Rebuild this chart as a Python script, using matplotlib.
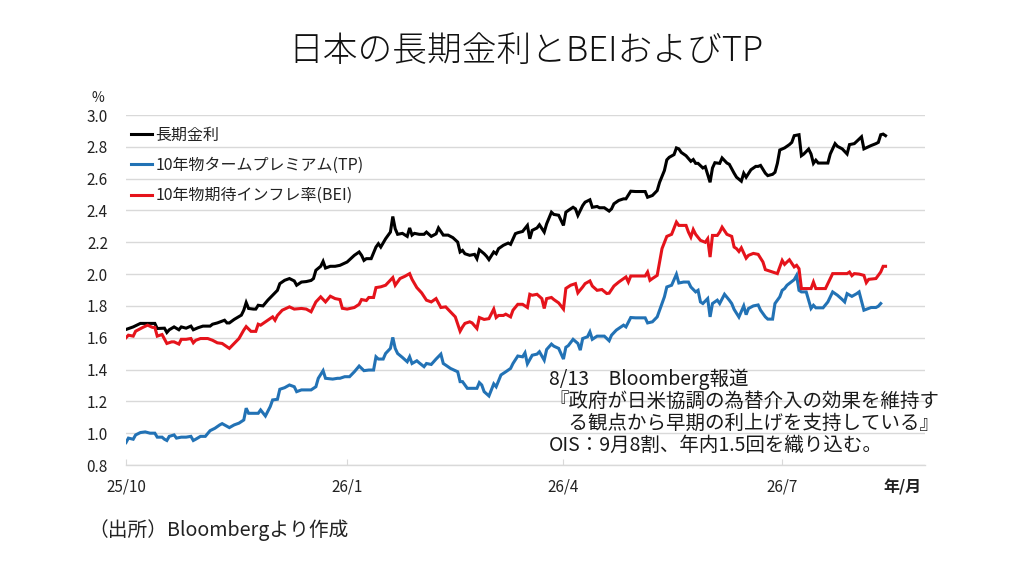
import matplotlib
matplotlib.use('Agg')
import matplotlib.pyplot as plt
import pandas as pd

plt.rcParams['font.family'] = ['Noto Sans CJK JP', 'DejaVu Sans']

title = '日本の長期金利とBEIおよびTP'
labels = ['長期金利', '10年物タームプレミアム(TP)', '10年物期待インフレ率(BEI)']
colors = ['#000000', '#2272B5', '#E5131B']

long_rate = [("2025-10-01",1.652),("2025-10-04",1.668),("2025-10-07",1.69),("2025-10-10",1.69),("2025-10-13",1.69),("2025-10-14",1.658),("2025-10-17",1.66),("2025-10-18",1.633),("2025-10-19",1.65),("2025-10-21",1.668),("2025-10-23",1.65),("2025-10-24",1.668),("2025-10-26",1.66),("2025-10-28",1.673),("2025-10-29",1.65),("2025-10-31",1.663),("2025-11-02",1.673),("2025-11-05",1.673),("2025-11-06",1.685),("2025-11-08",1.693),("2025-11-11",1.71),("2025-11-12",1.693),("2025-11-13",1.693),("2025-11-15",1.715),("2025-11-18",1.742),("2025-11-19",1.773),("2025-11-20",1.821),("2025-11-21",1.784),("2025-11-23",1.78),("2025-11-24",1.78),("2025-11-25",1.804),("2025-11-27",1.80),("2025-11-29",1.836),("2025-12-01",1.867),("2025-12-03",1.898),("2025-12-04",1.94),("2025-12-06",1.961),("2025-12-08",1.972),("2025-12-10",1.957),("2025-12-11",1.93),("2025-12-13",1.95),("2025-12-15",1.953),("2025-12-17",1.96),("2025-12-18",1.972),("2025-12-19",2.024),("2025-12-21",2.049),("2025-12-22",2.08),("2025-12-23",2.038),("2025-12-25",2.049),("2025-12-27",2.049),("2025-12-29",2.055),("2026-01-01",2.076),("2026-01-04",2.118),("2026-01-06",2.139),("2026-01-07",2.118),("2026-01-08",2.086),("2026-01-09",2.097),("2026-01-11",2.097),("2026-01-13",2.17),("2026-01-14",2.191),("2026-01-15",2.17),("2026-01-17",2.222),("2026-01-19",2.264),("2026-01-20",2.362),("2026-01-21",2.285),("2026-01-22",2.25),("2026-01-24",2.256),("2026-01-26",2.237),("2026-01-27",2.29),("2026-01-28",2.245),("2026-01-29",2.256),("2026-01-31",2.25),("2026-02-02",2.25),("2026-02-03",2.264),("2026-02-05",2.237),("2026-02-07",2.253),("2026-02-08",2.29),("2026-02-10",2.245),("2026-02-12",2.245),("2026-02-14",2.229),("2026-02-16",2.201),("2026-02-17",2.139),("2026-02-18",2.149),("2026-02-19",2.128),("2026-02-21",2.118),("2026-02-23",2.124),("2026-02-24",2.097),("2026-02-25",2.153),("2026-02-27",2.128),("2026-02-28",2.112),("2026-03-01",2.091),("2026-03-03",2.139),("2026-03-04",2.128),("2026-03-05",2.16),("2026-03-07",2.181),("2026-03-09",2.195),("2026-03-10",2.187),("2026-03-12",2.254),("2026-03-13",2.26),("2026-03-15",2.268),("2026-03-17",2.306),("2026-03-18",2.222),("2026-03-19",2.275),("2026-03-21",2.29),("2026-03-22",2.31),("2026-03-24",2.264),("2026-03-25",2.316),("2026-03-27",2.389),("2026-03-28",2.375),("2026-03-30",2.37),("2026-04-01",2.306),("2026-04-02",2.389),("2026-04-03",2.40),("2026-04-05",2.42),("2026-04-06",2.41),("2026-04-07",2.369),("2026-04-09",2.431),("2026-04-10",2.452),("2026-04-12",2.467),("2026-04-13",2.42),("2026-04-15",2.425),("2026-04-16",2.417),("2026-04-18",2.417),("2026-04-20",2.396),("2026-04-21",2.41),("2026-04-22",2.442),("2026-04-24",2.463),("2026-04-26",2.473),("2026-04-27",2.473),("2026-04-29",2.521),("2026-05-01",2.519),("2026-05-03",2.519),("2026-05-05",2.519),("2026-05-06",2.483),("2026-05-08",2.494),("2026-05-10",2.525),("2026-05-11",2.577),("2026-05-13",2.651),("2026-05-14",2.718),("2026-05-15",2.734),("2026-05-17",2.751),("2026-05-18",2.793),("2026-05-19",2.787),("2026-05-20",2.765),("2026-05-22",2.744),("2026-05-24",2.709),("2026-05-25",2.72),("2026-05-26",2.696),("2026-05-27",2.696),("2026-05-29",2.667),("2026-05-30",2.675),("2026-06-01",2.577),("2026-06-02",2.667),("2026-06-03",2.70),("2026-06-05",2.696),("2026-06-06",2.73),("2026-06-08",2.698),("2026-06-09",2.69),("2026-06-11",2.634),("2026-06-12",2.609),("2026-06-14",2.584),("2026-06-15",2.634),("2026-06-16",2.609),("2026-06-18",2.656),("2026-06-20",2.677),("2026-06-21",2.677),("2026-06-22",2.683),("2026-06-24",2.634),("2026-06-25",2.619),("2026-06-27",2.627),("2026-06-28",2.64),("2026-06-29",2.696),("2026-06-30",2.78),("2026-07-02",2.793),("2026-07-04",2.814),("2026-07-05",2.828),("2026-07-06",2.87),("2026-07-08",2.876),("2026-07-09",2.744),("2026-07-10",2.755),("2026-07-12",2.786),("2026-07-13",2.755),("2026-07-14",2.696),("2026-07-15",2.716),("2026-07-16",2.698),("2026-07-18",2.698),("2026-07-20",2.698),("2026-07-21",2.755),("2026-07-23",2.82),("2026-07-24",2.803),("2026-07-26",2.787),("2026-07-28",2.755),("2026-07-29",2.814),("2026-07-31",2.82),("2026-08-01",2.834),("2026-08-03",2.863),("2026-08-04",2.787),("2026-08-07",2.808),("2026-08-09",2.82),("2026-08-10",2.828),("2026-08-11",2.876),("2026-08-12",2.88),("2026-08-13",2.87)]

term_premium = [("2025-10-01",0.941),("2025-10-02",0.969),("2025-10-04",0.962),("2025-10-05",0.989),("2025-10-07",1.004),("2025-10-09",1.008),("2025-10-11",1.0),("2025-10-13",1.0),("2025-10-14",0.975),("2025-10-16",0.975),("2025-10-17",0.962),("2025-10-18",0.954),("2025-10-19",0.98),("2025-10-21",0.989),("2025-10-22",0.969),("2025-10-24",0.975),("2025-10-26",0.975),("2025-10-28",0.98),("2025-10-29",0.954),("2025-10-30",0.962),("2025-11-01",0.98),("2025-11-03",0.98),("2025-11-05",1.016),("2025-11-07",1.031),("2025-11-09",1.052),("2025-11-10",1.06),("2025-11-13",1.035),("2025-11-15",1.052),("2025-11-17",1.063),("2025-11-19",1.083),("2025-11-20",1.157),("2025-11-21",1.125),("2025-11-23",1.125),("2025-11-25",1.125),("2025-11-26",1.146),("2025-11-28",1.108),("2025-11-30",1.167),("2025-12-01",1.209),("2025-12-03",1.213),("2025-12-04",1.276),("2025-12-06",1.286),("2025-12-08",1.303),("2025-12-10",1.292),("2025-12-11",1.261),("2025-12-13",1.272),("2025-12-15",1.272),("2025-12-17",1.272),("2025-12-19",1.292),("2025-12-20",1.345),("2025-12-22",1.393),("2025-12-23",1.345),("2025-12-26",1.34),("2025-12-28",1.345),("2025-12-29",1.345),("2025-12-31",1.355),("2026-01-02",1.355),("2026-01-04",1.386),("2026-01-06",1.422),("2026-01-08",1.393),("2026-01-10",1.397),("2026-01-12",1.397),("2026-01-13",1.48),("2026-01-14",1.466),("2026-01-16",1.466),("2026-01-17",1.501),("2026-01-19",1.533),("2026-01-20",1.602),("2026-01-21",1.533),("2026-01-22",1.501),("2026-01-24",1.476),("2026-01-26",1.449),("2026-01-27",1.48),("2026-01-28",1.438),("2026-01-30",1.455),("2026-01-31",1.442),("2026-02-02",1.418),("2026-02-03",1.438),("2026-02-05",1.432),("2026-02-07",1.466),("2026-02-09",1.497),("2026-02-10",1.438),("2026-02-11",1.428),("2026-02-13",1.407),("2026-02-16",1.386),("2026-02-17",1.324),("2026-02-18",1.324),("2026-02-20",1.282),("2026-02-22",1.282),("2026-02-24",1.282),("2026-02-25",1.318),("2026-02-26",1.303),("2026-02-27",1.261),("2026-03-01",1.234),("2026-03-03",1.31),("2026-03-04",1.292),("2026-03-06",1.366),("2026-03-08",1.386),("2026-03-10",1.407),("2026-03-11",1.438),("2026-03-13",1.485),("2026-03-15",1.48),("2026-03-16",1.505),("2026-03-17",1.436),("2026-03-19",1.49),("2026-03-21",1.497),("2026-03-22",1.512),("2026-03-24",1.459),("2026-03-25",1.526),("2026-03-27",1.56),("2026-03-28",1.547),("2026-03-30",1.533),("2026-04-01",1.466),("2026-04-02",1.54),("2026-04-03",1.55),("2026-04-05",1.59),("2026-04-07",1.564),("2026-04-08",1.522),("2026-04-09",1.595),("2026-04-11",1.606),("2026-04-12",1.637),("2026-04-13",1.59),("2026-04-15",1.61),("2026-04-18",1.61),("2026-04-20",1.581),("2026-04-21",1.616),("2026-04-23",1.648),("2026-04-26",1.679),("2026-04-27",1.668),("2026-04-29",1.727),("2026-05-01",1.725),("2026-05-03",1.725),("2026-05-05",1.725),("2026-05-06",1.693),("2026-05-08",1.70),("2026-05-10",1.731),("2026-05-11",1.773),("2026-05-13",1.857),("2026-05-14",1.919),("2026-05-16",1.93),("2026-05-18",1.999),("2026-05-19",1.944),("2026-05-21",1.95),("2026-05-23",1.95),("2026-05-24",1.919),("2026-05-26",1.888),("2026-05-27",1.898),("2026-05-28",1.825),("2026-05-29",1.815),("2026-05-31",1.846),("2026-06-01",1.731),("2026-06-02",1.815),("2026-06-04",1.836),("2026-06-05",1.815),("2026-06-07",1.873),("2026-06-09",1.836),("2026-06-10",1.815),("2026-06-11",1.778),("2026-06-13",1.73),("2026-06-15",1.80),("2026-06-16",1.745),("2026-06-17",1.784),("2026-06-19",1.80),("2026-06-21",1.806),("2026-06-22",1.773),("2026-06-24",1.731),("2026-06-25",1.717),("2026-06-27",1.717),("2026-06-28",1.815),("2026-06-30",1.857),("2026-07-01",1.898),("2026-07-02",1.909),("2026-07-03",1.93),("2026-07-06",1.965),("2026-07-07",1.992),("2026-07-08",1.898),("2026-07-09",1.888),("2026-07-11",1.888),("2026-07-13",1.784),("2026-07-14",1.804),("2026-07-15",1.788),("2026-07-18",1.788),("2026-07-20",1.825),("2026-07-22",1.888),("2026-07-24",1.867),("2026-07-26",1.84),("2026-07-27",1.825),("2026-07-28",1.877),("2026-07-30",1.86),("2026-08-01",1.877),("2026-08-02",1.888),("2026-08-04",1.773),("2026-08-07",1.79),("2026-08-09",1.79),("2026-08-10",1.798),("2026-08-11",1.815)]

bei = [("2025-10-01",1.60),("2025-10-02",1.616),("2025-10-04",1.61),("2025-10-05",1.641),("2025-10-08",1.665),("2025-10-10",1.679),("2025-10-12",1.665),("2025-10-13",1.665),("2025-10-14",1.61),("2025-10-16",1.62),("2025-10-18",1.564),("2025-10-20",1.574),("2025-10-21",1.574),("2025-10-23",1.56),("2025-10-24",1.59),("2025-10-26",1.59),("2025-10-28",1.595),("2025-10-29",1.568),("2025-10-30",1.584),("2025-11-01",1.595),("2025-11-04",1.595),("2025-11-06",1.584),("2025-11-08",1.568),("2025-11-10",1.564),("2025-11-12",1.543),("2025-11-13",1.533),("2025-11-15",1.564),("2025-11-17",1.595),("2025-11-19",1.648),("2025-11-20",1.67),("2025-11-22",1.64),("2025-11-24",1.64),("2025-11-25",1.685),("2025-11-26",1.679),("2025-11-29",1.71),("2025-12-01",1.731),("2025-12-02",1.71),("2025-12-03",1.74),("2025-12-05",1.773),("2025-12-08",1.794),("2025-12-10",1.78),("2025-12-13",1.784),("2025-12-15",1.78),("2025-12-17",1.763),("2025-12-19",1.825),("2025-12-21",1.857),("2025-12-23",1.825),("2025-12-25",1.861),("2025-12-27",1.846),("2025-12-29",1.84),("2025-12-30",1.785),("2026-01-01",1.78),("2026-01-04",1.79),("2026-01-06",1.81),("2026-01-07",1.84),("2026-01-09",1.834),("2026-01-10",1.853),("2026-01-12",1.853),("2026-01-13",1.915),("2026-01-15",1.92),("2026-01-17",1.93),("2026-01-18",1.946),("2026-01-20",1.978),("2026-01-21",1.93),("2026-01-23",1.972),("2026-01-25",1.986),("2026-01-27",2.003),("2026-01-28",1.967),("2026-01-30",1.915),("2026-02-01",1.882),("2026-02-03",1.836),("2026-02-05",1.825),("2026-02-07",1.846),("2026-02-09",1.79),("2026-02-11",1.794),("2026-02-13",1.763),("2026-02-15",1.731),("2026-02-17",1.641),("2026-02-18",1.668),("2026-02-19",1.69),("2026-02-21",1.70),("2026-02-22",1.693),("2026-02-24",1.658),("2026-02-25",1.727),("2026-02-27",1.715),("2026-03-01",1.72),("2026-03-03",1.78),("2026-03-04",1.727),("2026-03-05",1.74),("2026-03-07",1.74),("2026-03-08",1.748),("2026-03-10",1.731),("2026-03-11",1.773),("2026-03-13",1.81),("2026-03-15",1.81),("2026-03-17",1.79),("2026-03-18",1.873),("2026-03-19",1.867),("2026-03-21",1.873),("2026-03-23",1.846),("2026-03-24",1.784),("2026-03-25",1.846),("2026-03-27",1.853),("2026-03-28",1.84),("2026-03-30",1.819),("2026-04-01",1.78),("2026-04-02",1.91),("2026-04-04",1.93),("2026-04-06",1.94),("2026-04-07",1.882),("2026-04-09",1.919),("2026-04-10",1.94),("2026-04-12",1.957),("2026-04-13",1.925),("2026-04-15",1.898),("2026-04-17",1.903),("2026-04-19",1.878),("2026-04-20",1.88),("2026-04-22",1.925),("2026-04-24",1.95),("2026-04-27",1.982),("2026-04-28",1.95),("2026-04-29",1.988),("2026-05-01",1.988),("2026-05-03",1.988),("2026-05-05",1.988),("2026-05-06",2.013),("2026-05-07",1.961),("2026-05-08",1.972),("2026-05-10",1.992),("2026-05-11",2.076),("2026-05-12",2.16),("2026-05-14",2.237),("2026-05-16",2.25),("2026-05-18",2.327),("2026-05-19",2.306),("2026-05-22",2.306),("2026-05-23",2.264),("2026-05-24",2.233),("2026-05-25",2.28),("2026-05-26",2.25),("2026-05-28",2.212),("2026-05-30",2.2),("2026-05-31",2.222),("2026-06-01",2.107),("2026-06-02",2.243),("2026-06-04",2.243),("2026-06-05",2.264),("2026-06-06",2.295),("2026-06-08",2.25),("2026-06-10",2.237),("2026-06-11",2.17),("2026-06-12",2.16),("2026-06-13",2.142),("2026-06-14",2.165),("2026-06-16",2.1),("2026-06-17",2.118),("2026-06-19",2.13),("2026-06-21",2.124),("2026-06-23",2.076),("2026-06-24",2.028),("2026-06-27",2.013),("2026-06-29",2.003),("2026-06-30",2.045),("2026-07-01",2.086),("2026-07-02",2.061),("2026-07-03",2.076),("2026-07-04",2.09),("2026-07-06",2.045),("2026-07-07",2.055),("2026-07-08",2.034),("2026-07-09",1.909),("2026-07-10",1.909),("2026-07-13",1.909),("2026-07-14",1.95),("2026-07-15",1.909),("2026-07-17",1.909),("2026-07-19",1.909),("2026-07-21",1.972),("2026-07-22",2.003),("2026-07-25",2.003),("2026-07-28",2.003),("2026-07-29",2.013),("2026-07-30",1.99),("2026-07-31",2.003),("2026-08-02",2.0),("2026-08-04",1.992),("2026-08-05",1.946),("2026-08-06",1.967),("2026-08-09",1.972),("2026-08-11",2.013),("2026-08-12",2.049),("2026-08-13",2.049)]

y_ticks = [0.8, 1.0, 1.2, 1.4, 1.6, 1.8, 2.0, 2.2, 2.4, 2.6, 2.8, 3.0]
x_tick_dates = ["2025-10-01", "2026-01-01", "2026-04-01", "2026-07-01"]
x_tick_labels = ['25/10', '26/1', '26/4', '26/7']
x_start = "2025-10-01"
x_end = "2026-08-29"

annotation_lines = ['8/13\u3000Bloomberg報道',
                    '『政府が日米協調の為替介入の効果を維持す',
                    '\u3000る観点から早期の利上げを支持している』',
                    'OIS：9月8割、年内1.5回を織り込む。']
source = '（出所）Bloombergより作成'

fig = plt.figure(figsize=(10.32, 5.82), dpi=100)
ax = fig.add_axes([126/1032, 1-465/582, 799/1032, 350/582])

series = [long_rate, term_premium, bei]
for data, lab, col in zip(series, labels, colors):
    d, v = zip(*data)
    ax.plot(pd.to_datetime(list(d)), v, color=col, lw=2.2, label=lab,
            solid_joinstyle='miter')

ax.set_ylim(0.8, 3.0)
ax.set_xlim(pd.Timestamp(x_start), pd.Timestamp(x_end) + pd.Timedelta(hours=10))
ax.set_yticks(y_ticks)
ax.set_yticklabels([f'{t:.1f}' for t in y_ticks])
ax.set_xticks(pd.to_datetime(x_tick_dates))
ax.set_xticklabels(x_tick_labels)
ax.grid(axis='y', color='#D9D9D9', lw=1.0)
ax.set_axisbelow(True)
for s in ['top', 'right', 'left']:
    ax.spines[s].set_visible(False)
ax.spines['bottom'].set_color('#D9D9D9')
ax.spines['bottom'].set_linewidth(1.0)
ax.tick_params(axis='y', length=0, pad=13, labelsize=11, labelcolor='#222222')
ax.tick_params(axis='x', direction='in', length=4, color='#D9D9D9', pad=10,
               labelsize=11, labelcolor='#222222')

leg = ax.legend(loc='upper left', bbox_to_anchor=(0.006, 0.966), frameon=False,
                fontsize=11.5, handlelength=1.35, handletextpad=0.2,
                labelspacing=0.82, borderpad=0, borderaxespad=0)
for t in leg.get_texts():
    t.set_color('#222222')

fig.text(526/1032, 1-51/582, title, ha='center', va='center', fontsize=25,
         fontweight='light', color='#111111')
fig.text(98/1032, 1-98/582, '%', ha='center', va='center', fontsize=10, color='#222222')
fig.text(902/1032, 1-487/582, '年/月', ha='center', va='center', fontsize=11.5,
         fontweight='bold', color='#222222')
fig.text(88/1032, 1-530/582, source, ha='left', va='center', fontsize=14.2, color='#222222')

ys = [379, 401, 423, 445]
for line, yy in zip(annotation_lines, ys):
    fig.text(549/1032, 1-yy/582, line, ha='left', va='center', fontsize=14.0,
             color='#1a1a1a')

fig.savefig('out.png', dpi=100)
